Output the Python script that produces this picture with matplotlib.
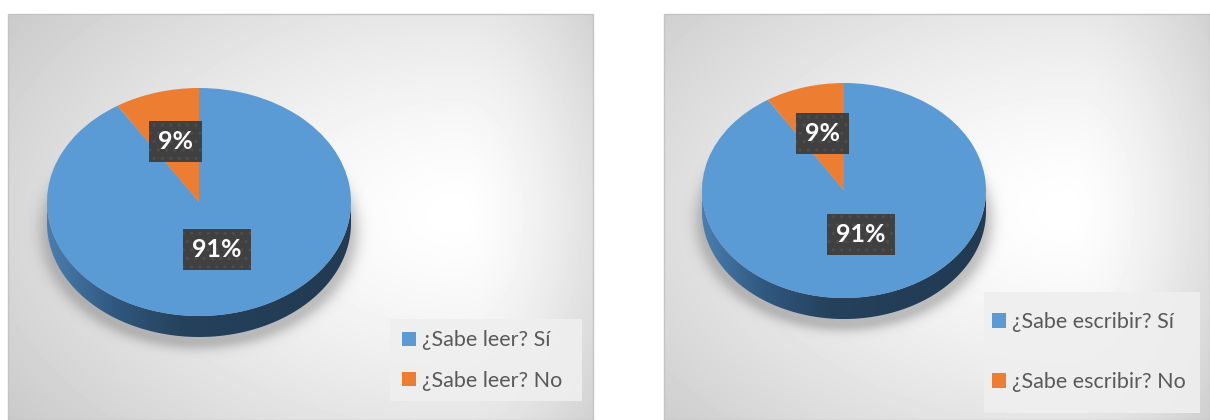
import numpy as np
import matplotlib
matplotlib.use("Agg")
import matplotlib.pyplot as plt
from matplotlib.patches import Polygon, Rectangle
from matplotlib.colors import LinearSegmentedColormap

plt.rcParams['font.family'] = ['Lato', 'DejaVu Sans']
plt.rcParams['hatch.linewidth'] = 1.2

W, H = 1210, 420

# data
labels_leer = ["¿Sabe leer? Sí", "¿Sabe leer? No"]
labels_escribir = ["¿Sabe escribir? Sí", "¿Sabe escribir? No"]
values_leer = [91, 9]
values_escribir = [91, 9]
pct_leer = ["91%", "9%"]
pct_escribir = ["91%", "9%"]
slice_colors = ["#5b9bd5", "#ed7d31"]

side_cmap = LinearSegmentedColormap.from_list(
    "side", [(0, "#4a7eb0"), (0.22, "#30587e"), (0.45, "#25415c"), (1, "#223a52")])

fig = plt.figure(figsize=(W / 100, H / 100), dpi=100)
bg = fig.add_axes([0, 0, 1, 1])
bg.axis('off')


def panel_background(x0, x1, y0, y1, cx, cy):
    xs = np.arange(x0, x1) + 0.5
    ys = np.arange(y0, y1) + 0.5
    X, Y = np.meshgrid(xs, ys)
    dx = X - cx
    sx = np.where(dx < 0, 480, 170)
    d = np.sqrt((dx / sx) ** 2 + ((Y - cy) / 300) ** 2)
    v = 1.0 - 0.17 * np.clip(d, 0, 1.3) ** 1.4
    bg.imshow(v, cmap='gray', vmin=0, vmax=1, extent=(x0, x1, y1, y0),
              interpolation='bilinear', aspect='auto', zorder=0)
    bg.add_patch(Rectangle((x0, y0), x1 - x0, y1 - y0, fill=False,
                           edgecolor='#c4c4c4', lw=1.0, zorder=0.5))


def pie_shadow(cx, cy, rx, ry, depth):
    x0, x1 = int(cx - rx - 40), int(cx + rx + 40)
    y0, y1 = int(cy - ry), int(cy + ry + depth + 40)
    X, Y = np.meshgrid(np.arange(x0, x1) + 0.5, np.arange(y0, y1) + 0.5)
    d = np.sqrt(((X - cx) / (rx + 3)) ** 2 + ((Y - (cy + depth + 9)) / ry) ** 2)
    a = 0.38 * np.exp(-(np.clip(d - 0.96, 0, None) / 0.08) ** 2)
    rgba = np.zeros(X.shape + (4,))
    rgba[..., :3] = 0.4
    rgba[..., 3] = a
    bg.imshow(rgba, extent=(x0, x1, y1, y0), aspect='auto', zorder=1)


def draw_pie(cx, cy, rx, ry, depth, values, labels, pct, legend_box, legend_x, legend_mid, spacing):
    d = depth / ry
    ax = fig.add_axes([(cx - rx) / W, 1 - (cy + ry + depth) / H, 2 * rx / W, (2 * ry + depth) / H])
    wedges, _ = ax.pie(values, colors=slice_colors, startangle=90, counterclock=False,
                       wedgeprops=dict(linewidth=0), radius=1)

    # side of the 3D pie
    t = np.linspace(np.pi, 2 * np.pi, 300)
    side = np.concatenate([np.c_[np.cos(t), np.sin(t)],
                           np.c_[np.cos(t[::-1]), np.sin(t[::-1]) - d]])
    poly = Polygon(side, closed=True, facecolor='none', edgecolor='none')
    ax.add_patch(poly)
    im = ax.imshow(np.linspace(0, 1, 256)[None, :], cmap=side_cmap,
                   extent=(-1, 1, -1 - d, 0), aspect='auto', zorder=0.5)
    im.set_clip_path(poly)

    ax.set_aspect('auto')
    ax.set_xlim(-1, 1)
    ax.set_ylim(-1 - d, 1)
    ax.axis('off')

    for w, txt, r in zip(wedges, pct, [0.43, 0.55]):
        ang = np.deg2rad((w.theta1 + w.theta2) / 2)
        ax.text(r * np.cos(ang), r * np.sin(ang), txt, ha='center', va='center',
                color='white', fontsize=18, fontweight='bold', zorder=5,
                bbox=dict(boxstyle='square,pad=0.36', fc='#404040', ec='#4c4c4c',
                          lw=0, hatch='..'))

    bx0, by0, bx1, by1 = legend_box
    bg.add_patch(Rectangle((bx0, by0), bx1 - bx0, by1 - by0, facecolor='#efefef',
                           edgecolor='none', alpha=0.9, zorder=2))
    ax.legend(wedges, labels, loc='center left',
              bbox_to_anchor=(legend_x / W, 1 - legend_mid / H), bbox_transform=fig.transFigure,
              frameon=False, borderpad=0, borderaxespad=0, fontsize=15.5, labelcolor='#595959',
              handlelength=0.65, handleheight=0.65, handletextpad=0.3, labelspacing=spacing)


panel_background(8, 593, 14, 420, 460, 214)
panel_background(664, 1210, 14, 420, 1070, 210)
bg.set_xlim(0, W)
bg.set_ylim(H, 0)

pie_shadow(199, 202, 152, 114, 21)
pie_shadow(844, 190.5, 142, 107.5, 21)
bg.set_xlim(0, W)
bg.set_ylim(H, 0)

draw_pie(199, 202, 152, 114, 21, values_leer, labels_leer, pct_leer,
         (390, 319, 582, 401), 402, 360.5, 0.95)
draw_pie(844, 190.5, 142, 107.5, 21, values_escribir, labels_escribir, pct_escribir,
         (984, 292, 1200, 413), 992, 352, 1.85)

fig.savefig("out.png", dpi=100)
